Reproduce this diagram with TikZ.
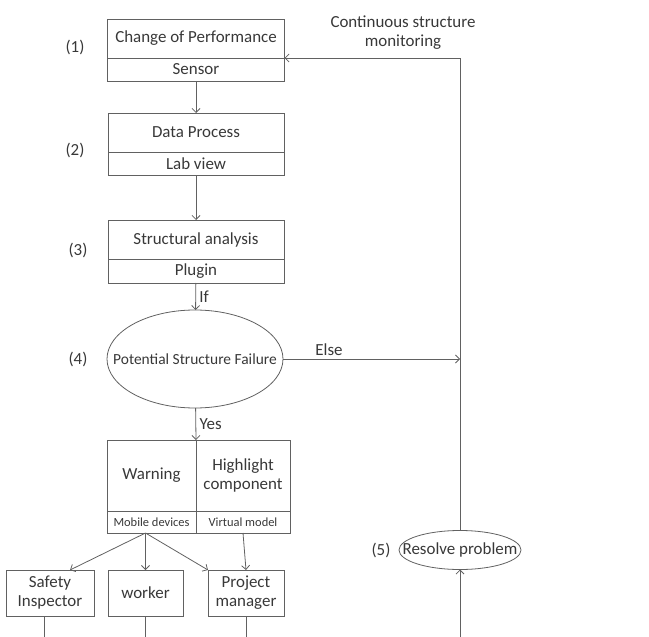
\documentclass[tikz,border=0pt]{standalone}
\usepackage{fontspec}
\setmainfont{Carlito}
\usetikzlibrary{arrows.meta,shapes.geometric}
\begin{document}
\begin{tikzpicture}[x=1bp,y=-1bp,>={Straight Barb[length=4bp,width=8bp]},
	color=black!62, line width=0.8bp,
	every node/.style={text=black!78,font=\fontsize{17}{19}\selectfont},
	cell/.style={draw,rectangle,outer sep=0pt,inner sep=1bp,align=center},
	oval/.style={draw,ellipse,outer sep=0pt,inner ysep=0pt},
	tiny/.style={font=\fontsize{12.5}{14}\selectfont}]
				\useasboundingbox (0,0) rectangle (649,637);
				% steps (1)-(3)
				\node[cell, minimum width=177bp, minimum height=39bp]
				(perf) at (196,38.5) {Change of Performance};
				\node[cell, minimum width=177bp, minimum height=23bp]
				(sens) at (196,69.5) {Sensor};
				\node[cell, minimum width=176bp, minimum height=39bp]
				(data) at (196,132.5) {Data Process};
				\node[cell, minimum width=176bp, minimum height=23bp]
				(lab) at (196,163.5) {Lab view};
				\node[cell, minimum width=176bp, minimum height=39bp]
				(ana) at (196,239.5) {Structural analysis};
				\node[cell, minimum width=176bp, minimum height=24bp]
				(plug) at (196,271) {Plugin};
				% step (4)
				\node[oval, inner xsep=-26bp, minimum width=176bp, minimum height=98bp,
				font=\fontsize{15.5}{17}\selectfont]
				(fail) at (195,359) {Potential Structure Failure};
				\node[cell, minimum width=89bp, minimum height=71bp]
				(warn) at (151.5,475.5) {Warning};
				\node[cell, minimum width=94bp, minimum height=71bp]
				(high) at (243,475.5) {Highlight\\component};
				\node[cell, tiny, minimum width=89bp, minimum height=22bp]
				(mob) at (151.5,522) {Mobile devices};
				\node[cell, tiny, minimum width=94bp, minimum height=22bp]
				(virt) at (243,522) {Virtual model};
				\node[cell, minimum width=88bp, minimum height=46bp]
				(safe) at (50,593) {Safety\\Inspector};
				\node[cell, minimum width=75bp, minimum height=46bp]
				(work) at (145.5,593) {worker};
				\node[cell, minimum width=76bp, minimum height=46bp]
				(pm) at (246,593) {Project\\manager};
				% step (5)
				\node[oval, inner xsep=-18bp, minimum width=122bp, minimum height=39bp]
				(res) at (460,550) {Resolve problem};
				% numbering
				\node (n1) at (75,47) {(1)};
				\node (n2) at (75,150) {(2)};
				\node (n3) at (78,250) {(3)};
				\node (n4) at (78,359) {(4)};
				\node (n5) at (381,550) {(5)};
				\node[align=center] (mon) at (403,33)
				{Continuous structure\\monitoring};
				\coordinate (bot) at (0,637);
				% connectors
				\draw[->] (sens) -- (data);
				\draw[->] (lab) -- (ana);
				\draw[->] (plug) -- node[right] {If} (fail);
				\draw[->] (fail) -- node[right] {Yes} (warn.north east);
				\draw[->] (fail.east) -- node[pos=0.26,above] {Else}
				(fail.east -| res.north);
				\draw[->] (res.north) |- (perf.south east);
				\draw[->] (res.south |- bot) -- (res.south);
				\draw[->] ([xshift=-6bp]mob.south) -- ([xshift=20bp]safe.north);
				\draw[->] ([xshift=-6bp]mob.south) -- (work.north);
				\draw[->] ([xshift=-6bp]mob.south) -- (pm.north west);
				\draw[->] (virt.south) -- (pm.north);
				\draw ([xshift=-6bp]safe.south) -- ([xshift=-6bp]safe.south |- bot);
				\draw (work.south) -- (work.south |- bot);
				\draw (pm.south) -- (pm.south |- bot);
			\end{tikzpicture}
\end{document}
